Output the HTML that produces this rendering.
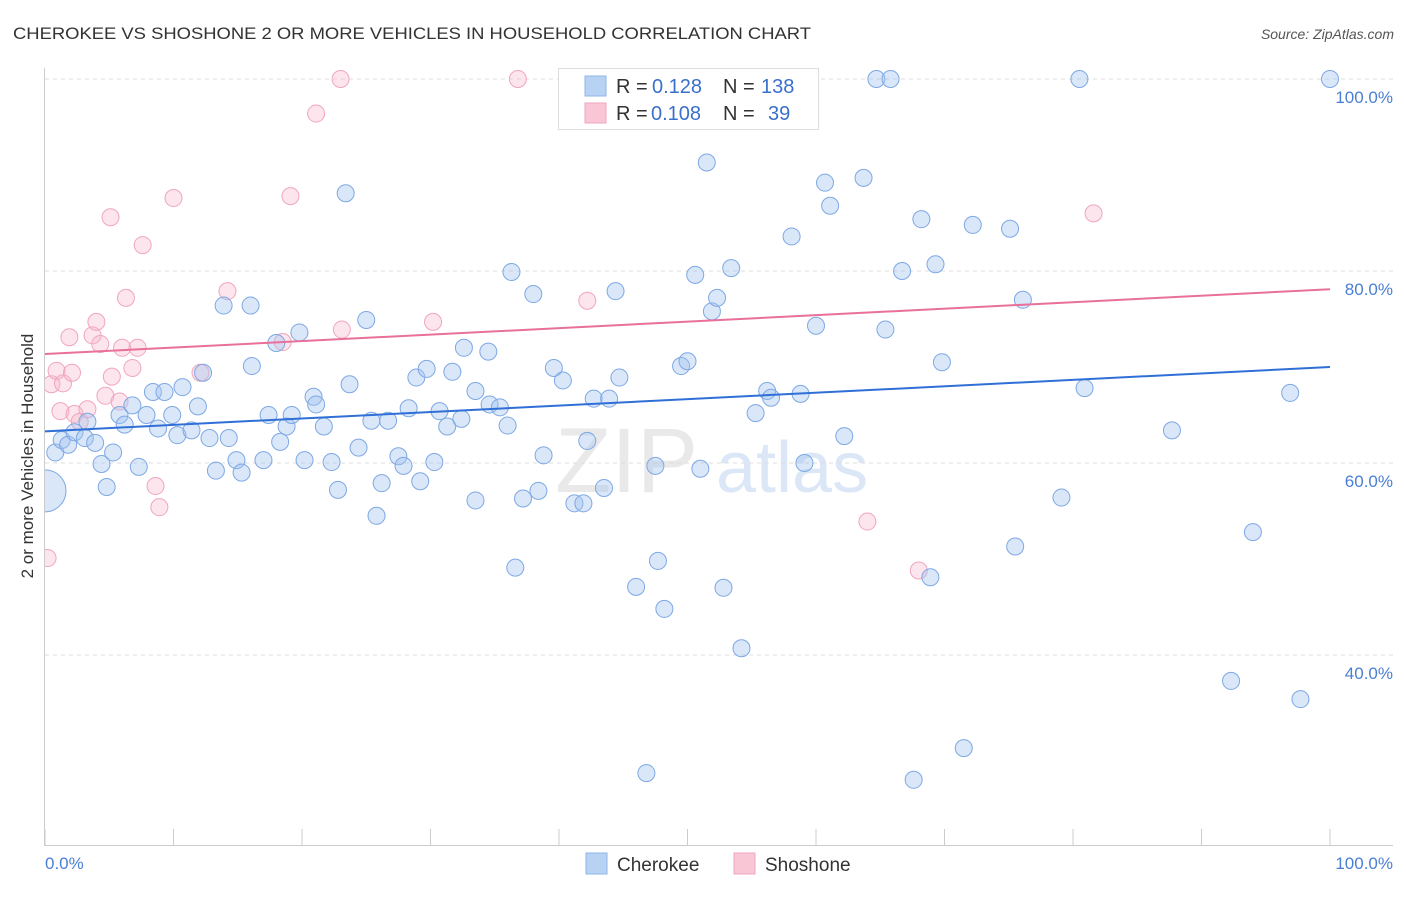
<!DOCTYPE html>
<html><head><meta charset="utf-8"><style>
body{margin:0;background:#fff;font-family:"Liberation Sans",sans-serif;}
svg text{font-family:"Liberation Sans",sans-serif;}
</style></head><body>
<svg id="chart" width="1406" height="892" viewBox="0 0 1406 892" xmlns="http://www.w3.org/2000/svg">
<text x="13" y="39" font-size="17" fill="#333" textLength="798" lengthAdjust="spacingAndGlyphs">CHEROKEE VS SHOSHONE 2 OR MORE VEHICLES IN HOUSEHOLD CORRELATION CHART</text>
<text x="1394" y="39" font-size="14" fill="#555" font-style="italic" text-anchor="end">Source: ZipAtlas.com</text>
<g>
<text x="555" y="492" font-size="92" fill="#d8d8d8" font-family="Liberation Serif" opacity="0.55">ZIP</text>
<text x="716" y="492" font-size="72" fill="#b8d0ee" opacity="0.5">atlas</text>
</g>
<g id="grid"></g>
<g id="xticks"></g>
<text x="45" y="869" font-size="17" fill="#4a7fd4">0.0%</text>
<text x="1393" y="869" font-size="17" fill="#4a7fd4" text-anchor="end">100.0%</text>
<g id="pts"></g>
<rect x="0" y="60" width="44.5" height="790" fill="#fff"/>
<line x1="44.5" y1="68" x2="44.5" y2="845" stroke="#ccc"/>
<line x1="44" y1="845.5" x2="1393" y2="845.5" stroke="#ccc"/>
<text transform="translate(33,456) rotate(-90)" font-size="17" fill="#333" text-anchor="middle">2 or more Vehicles in Household</text>
<g id="trends"></g>
<g>
<rect x="558.5" y="68.5" width="260" height="61" fill="#fff" stroke="#ddd"/>
<rect x="585" y="76" width="21" height="20" fill="#b8d2f4" stroke="#8fb5e8"/>
<rect x="585" y="103" width="21" height="20" fill="#f9c6d5" stroke="#f0a6bf"/>
<text x="616" y="93" font-size="20" fill="#333">R = </text><text x="652" y="93" font-size="20" fill="#3a70cc">0.128</text>
<text x="723" y="93" font-size="20" fill="#333">N = </text><text x="761" y="93" font-size="20" fill="#3a70cc">138</text>
<text x="616" y="120" font-size="20" fill="#333">R = </text><text x="651" y="120" font-size="20" fill="#3a70cc">0.108</text>
<text x="723" y="120" font-size="20" fill="#333">N = </text><text x="768" y="120" font-size="20" fill="#3a70cc">39</text>
</g>
<g>
<rect x="586" y="853" width="21" height="21" fill="#b8d2f4" stroke="#8fb5e8"/>
<text x="617" y="871" font-size="19" fill="#333">Cherokee</text>
<rect x="734" y="853" width="21" height="21" fill="#f9c6d5" stroke="#f0a6bf"/>
<text x="765" y="871" font-size="19" fill="#333">Shoshone</text>
</g>
</svg>
<script>
const yTicks=[40,60,80,100];
const yTickLabels=["40.0%","60.0%","80.0%","100.0%"];
const xTicks=[0,10,20,30,40,50,60,70,80,90,100];
const blueX=[0.8,1.3,1.8,2.3,3.1,3.3,3.9,4.4,4.8,5.3,5.8,6.2,6.8,7.3,7.9,8.4,8.8,9.3,9.9,10.3,10.7,11.4,11.9,12.3,12.8,13.3,14.3,14.9,15.3,16.1,13.9,16.0,17.0,17.4,18.0,18.3,18.8,19.2,19.8,20.2,20.9,21.1,21.7,22.3,22.8,23.4,23.7,24.4,25.0,25.4,25.8,26.2,26.7,27.5,27.9,28.3,28.9,29.2,29.7,30.3,30.7,31.3,31.7,32.4,32.6,33.5,33.5,34.5,34.6,35.4,36.0,36.3,36.6,37.2,38.0,38.4,38.8,39.6,40.3,41.2,41.9,42.2,42.7,43.5,43.9,44.4,44.7,46.0,46.8,47.5,47.7,48.2,49.5,50.0,50.6,51.0,51.5,51.9,52.3,52.8,53.4,54.2,55.3,56.2,56.5,58.1,58.8,59.1,60.0,60.7,61.1,62.2,63.7,64.7,65.4,65.8,66.7,67.6,68.2,68.9,69.3,69.8,71.5,72.2,75.1,75.5,76.1,79.1,80.5,80.9,87.7,92.3,94.0,96.9,97.7,100,53.7];
const blueY=[61.1,62.4,61.9,63.2,62.6,64.3,62.1,59.9,57.5,61.1,65.0,64.0,66.0,59.6,65.0,67.4,63.6,67.4,65.0,62.9,67.9,63.4,65.9,69.4,62.6,59.2,62.6,60.3,59.0,70.1,76.4,76.4,60.3,65.0,72.5,62.2,63.8,65.0,73.6,60.3,66.9,66.1,63.8,60.1,57.2,88.1,68.2,61.6,74.9,64.4,54.5,57.9,64.4,60.7,59.7,65.7,68.9,58.1,69.8,60.1,65.4,63.8,69.5,64.6,72.0,67.5,56.1,71.6,66.1,65.8,63.9,79.9,49.1,56.3,77.6,57.1,60.8,69.9,68.6,55.8,55.8,62.3,66.7,57.4,66.7,77.9,68.9,47.1,27.7,59.7,49.8,44.8,70.1,70.6,79.6,59.4,91.3,75.8,77.2,47.0,80.3,40.7,65.2,67.5,66.8,83.6,67.2,60.0,74.3,89.2,86.8,62.8,89.7,100,73.9,100,80.0,27.0,85.4,48.1,80.7,70.5,30.3,84.8,84.4,51.3,77.0,56.4,100,67.8,63.4,37.3,52.8,67.3,35.4,100,100];
const bigBlue=[0,57.1];
const pinkX=[0.2,0.5,0.9,1.2,1.4,1.9,2.1,2.3,2.7,3.3,3.7,4.0,4.3,4.7,5.1,5.2,5.8,6.0,6.3,6.8,7.2,7.6,8.6,8.9,10.0,12.1,14.2,18.5,19.1,21.1,23.0,23.1,30.2,36.8,42.2,64.0,68.0,81.6];
const pinkY=[50.1,68.2,69.6,65.4,68.3,73.1,69.4,65.1,64.3,65.6,73.3,74.7,72.4,67.0,85.6,69.0,66.4,72.0,77.2,69.9,72.0,82.7,57.6,55.4,87.6,69.4,77.9,72.6,87.8,96.4,100,73.9,74.7,100,76.9,53.9,48.8,86.0];
const blueTrend=[63.3,70.0];
const pinkTrend=[71.35,78.1];
const NS="http://www.w3.org/2000/svg";
const X=v=>45+v*12.85, Y=v=>1039-v*9.6;
function mk(tag,attrs,parent){const e=document.createElementNS(NS,tag);for(const k in attrs)e.setAttribute(k,attrs[k]);parent.appendChild(e);return e;}
const grid=document.getElementById('grid');
yTicks.forEach((t,i)=>{
  const l=mk('line',{x1:45,x2:1393,y1:Y(t),y2:Y(t),stroke:'#ddd','stroke-dasharray':'4,4'},grid);
  
  
  const tx=mk('text',{x:1393,y:Y(t)+24,'font-size':17,fill:'#4a7fd4','text-anchor':'end'},grid);
  tx.textContent=yTickLabels[i];
  
  
});
const xt=document.getElementById('xticks');
xTicks.forEach(t=>{
  const l=mk('line',{x1:X(t),x2:X(t),y1:829,y2:845,stroke:'#ccc'},xt);
  
  
});
const pts=document.getElementById('pts');
pinkX.forEach((x,i)=>{
  const c=mk('circle',{cx:X(x),cy:Y(pinkY[i]),r:8.5,fill:'rgba(246,180,200,0.35)',stroke:'#f0a6bf','stroke-width':1},pts);
  
  
});
blueX.forEach((x,i)=>{
  const c=mk('circle',{cx:X(x),cy:Y(blueY[i]),r:8.5,fill:'rgba(160,196,240,0.4)',stroke:'#7ea8e4','stroke-width':1},pts);
  
  
});
const bb=mk('circle',{cx:X(bigBlue[0]),cy:Y(bigBlue[1]),r:21,fill:'rgba(160,196,240,0.4)',stroke:'#7ea8e4'},pts);


const tr=document.getElementById('trends');
const bl=mk('line',{x1:X(0),y1:Y(blueTrend[0]),x2:X(100),y2:Y(blueTrend[1]),stroke:'#2f6fd6','stroke-width':2},tr);


const pl=mk('line',{x1:X(0),y1:Y(pinkTrend[0]),x2:X(100),y2:Y(pinkTrend[1]),stroke:'#e8709a','stroke-width':2},tr);


</script>
</body></html>
